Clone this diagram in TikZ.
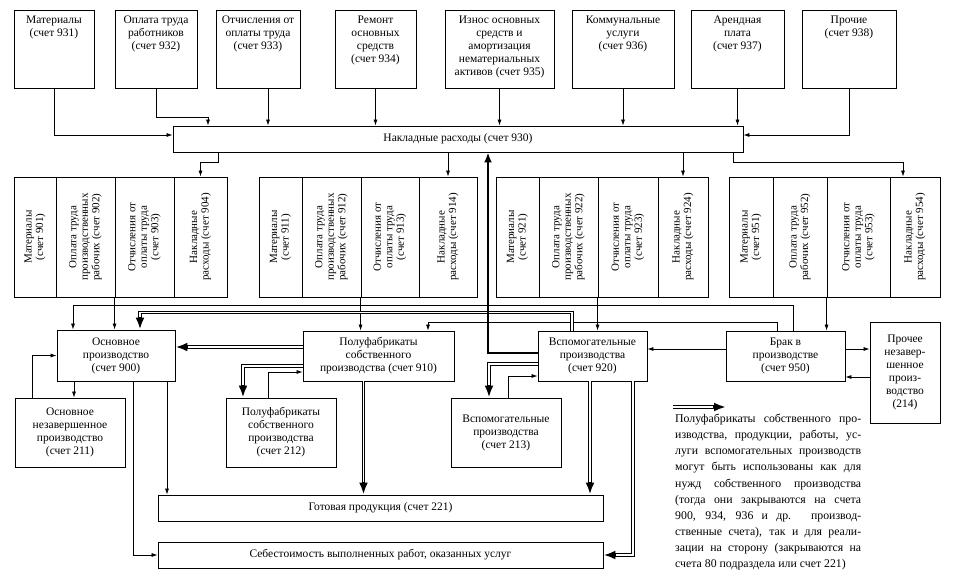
\documentclass[tikz,border=0pt]{standalone}
\usepackage{fontspec}
\setmainfont{Liberation Serif}
\usetikzlibrary{arrows.meta}
\newcommand{\toptext}[2]{\parbox[c][66pt][t]{#1}{\centering #2}}

\begin{document}
\begin{tikzpicture}[x=1pt,y=-1pt,
  box/.style={draw, line width=0.9pt, align=center, inner sep=0pt, font=\fontsize{11.5}{13}\selectfont},
  cell/.style={box, rotate=90, minimum width=120pt, font=\fontsize{11}{11.5}\selectfont},
  lnk/.style={line width=0.7pt, -{Latex[length=6pt,width=4pt]}},
  dbl/.style={line width=3.8pt, -{Latex[length=12pt,width=9pt]}, postaction={draw=white, line width=1.4pt, -, shorten >=13pt}},
  heavy/.style={line width=2.8pt, -{Latex[length=10pt,width=8pt]}},
  note/.style={anchor=north west, inner sep=0pt, text width=186pt, align=justify, font=\fontsize{11.8}{16.1}\selectfont}]
\useasboundingbox (0,0) rectangle (953,574);
\node[box, minimum width=80pt, minimum height=78pt] (m931) at (54,49) {\toptext{78pt}{Материалы\\(счет 931)}};
\node[box, minimum width=82pt, minimum height=78pt] (m932) at (156,49) {\toptext{80pt}{Оплата труда\\работников\\(счет 932)}};
\node[box, minimum width=84pt, minimum height=78pt] (m933) at (258,49) {\toptext{82pt}{Отчисления от\\оплаты труда\\(счет 933)}};
\node[box, minimum width=81pt, minimum height=78pt] (m934) at (375.5,49) {\toptext{79pt}{Ремонт\\основных\\средств\\(счет 934)}};
\node[box, minimum width=109pt, minimum height=78pt] (m935) at (499.5,49) {\toptext{107pt}{Износ основных\\средств и\\амортизация\\нематериальных\\активов (счет 935)}};
\node[box, minimum width=102pt, minimum height=78pt] (m936) at (623,49) {\toptext{100pt}{Коммунальные\\услуги\\(счет 936)}};
\node[box, minimum width=93pt, minimum height=78pt] (m937) at (737.5,49) {\toptext{91pt}{Арендная\\плата\\(счет 937)}};
\node[box, minimum width=94pt, minimum height=78pt] (m938) at (849,49) {\toptext{92pt}{Прочие\\(счет 938)}};
\node[box, minimum width=570pt, minimum height=26pt] (o930) at (458,139) {Накладные расходы (счет 930)};
\node[cell, minimum height=42pt] (c901) at (35,237) {Материалы\\(счет 901)};
\node[cell, minimum height=59pt] (c902) at (85.5,237) {Оплата труда\\производственных\\рабочих (счет 902)};
\node[cell, minimum height=59pt] (c903) at (144.5,237) {Отчисления от\\оплаты труда\\(счет 903)};
\node[cell, minimum height=53pt] (c904) at (200.5,237) {Накладные\\расходы (счет 904)};
\node[cell, minimum height=43pt] (c911) at (280.5,237) {Материалы\\(счет 911)};
\node[cell, minimum height=59pt] (c912) at (331.5,237) {Оплата труда\\производственных\\рабочих (счет 912)};
\node[cell, minimum height=58pt] (c913) at (390,237) {Отчисления от\\оплаты труда\\(счет 913)};
\node[cell, minimum height=58pt] (c914) at (448,237) {Накладные\\расходы (счет 914)};
\node[cell, minimum height=43pt] (c921) at (517.5,237) {Материалы\\(счет 921)};
\node[cell, minimum height=59pt] (c922) at (568.5,237) {Оплата труда\\производственных\\рабочих (счет 922)};
\node[cell, minimum height=60pt] (c923) at (628,237) {Отчисления от\\оплаты труда\\(счет 923)};
\node[cell, minimum height=50pt] (c924) at (683,237) {Накладные\\расходы (счет 924)};
\node[cell, minimum height=44pt] (c951) at (751,237) {Материалы\\(счет 951)};
\node[cell, minimum height=54pt] (c952) at (800,237) {Оплата труда\\рабочих (счет 952)};
\node[cell, minimum height=63pt] (c953) at (858.5,237) {Отчисления от\\оплаты труда\\(счет 953)};
\node[cell, minimum height=50pt] (c954) at (915,237) {Накладные\\расходы (счет 954)};
\node[box, minimum width=118pt, minimum height=51pt] (p900) at (116,355.5) {Основное\\производство\\(счет 900)};
\node[box, minimum width=151pt, minimum height=50pt] (p910) at (378.5,356) {Полуфабрикаты\\собственного\\производства (счет 910)};
\node[box, minimum width=109pt, minimum height=50pt] (p920) at (592.5,356) {Вспомогательные\\производства\\(счет 920)};
\node[box, minimum width=119pt, minimum height=50pt] (p950) at (785.5,356) {Брак в\\производстве\\(счет 950)};
\node[box, minimum width=70pt, minimum height=101pt] (p214) at (905,372.5) {Прочее\\незавер-\\шенное\\произ-\\водство\\(214)};
\node[box, minimum width=110pt, minimum height=69pt] (s211) at (70,432.5) {Основное\\незавершенное\\производство\\(счет 211)};
\node[box, minimum width=110pt, minimum height=69pt] (s212) at (281,432.5) {Полуфабрикаты\\собственного\\производства\\(счет 212)};
\node[box, minimum width=110pt, minimum height=69pt] (s213) at (506,432.5) {Вспомогательные\\производства\\(счет 213)};
\node[box, minimum width=445pt, minimum height=26pt] (g221) at (380.5,508) {Готовая продукция (счет 221)};
\node[box, minimum width=445pt, minimum height=26pt] (kost) at (380.5,555) {Себестоимость выполненных работ, оказанных услуг};
\draw[lnk] (m931.south) |- ([yshift=4pt]o930.west);
\draw[lnk] (m932.south) -- ++(0,29) -| ([xshift=-250pt]o930.north);
\draw[lnk] ([xshift=10pt]m933.south) -- ([xshift=10pt]m933.south |- o930.north);
\draw[lnk] (m934.south) -- (m934.south |- o930.north);
\draw[lnk] (m935.south) -- (m935.south |- o930.north);
\draw[lnk] (m936.south) -- (m936.south |- o930.north);
\draw[lnk] (m937.south) -- (m937.south |- o930.north);
\draw[lnk] (m938.south) |- ([yshift=4pt]o930.east);
\draw[lnk] ([xshift=-240pt]o930.south) -- ++(0,10) -| (c904.east);
\draw[lnk] (c914.east |- o930.south) -- (c914.east);
\draw[lnk] (c924.east |- o930.south) -- (c924.east);
\draw[lnk] ([xshift=275pt]o930.south) -- ++(0,10) -| ([xshift=-12pt]c954.east);
\draw[lnk] (c903.north west) -- (c903.north west |- p900.north);
\draw[lnk] (c913.north west) -- (c913.north west |- p910.north);
\draw[lnk] (c923.north west) -- (c923.north west |- p920.north);
\draw[lnk] (c953.north west) -- (c953.north west |- p950.north);
\draw[lnk] ([xshift=7.5pt]p950.north) -- ++(0,-25) -| ([xshift=-43pt]p900.north);
\draw[lnk] ([xshift=-8.5pt]p950.north) -- ++(0,-8) -| ([xshift=49.5pt]p910.north);
\draw[lnk] ([yshift=7pt]p950.west) -- ([yshift=7pt]p920.east);
\draw[lnk] ([yshift=7pt]p950.east) -- ([yshift=7pt]p950.east -| p214.west);
\draw[lnk] ([yshift=-21pt]p950.east -| p214.west) -- ([yshift=-21pt]p950.east);
\draw[lnk] ([xshift=-13pt]s212.north) |- ([yshift=-16pt]p910.west);
\draw[lnk] ([xshift=-42pt]p900.south) -- ([xshift=-42pt]p900.south |- s211.north);
\draw[lnk] ([xshift=-38pt]s211.north) |- (p900.west);
\draw[lnk] ([xshift=51pt]p900.south) -- ([xshift=51pt]p900.south |- g221.north);
\draw[lnk] ([xshift=17pt]p900.south) |- (kost.west);
\draw[lnk] ([xshift=2pt]s213.north) |- ([yshift=-20pt]p920.west);
\draw[dbl] ([yshift=9pt]p910.west) -- ([yshift=9pt]p910.west -| p900.east);
\draw[dbl] ([yshift=-10pt]p910.west) -| ([xshift=-38pt]s212.north);
\draw[dbl] ([xshift=-15pt]p910.south) -- ([xshift=-15pt]p910.south |- g221.north);
\draw[dbl] ([xshift=-20.5pt]p920.north) -- ++(0,-18) -| ([xshift=24pt]p900.north);
\draw[dbl] ([yshift=-8pt]p920.west) -| ([xshift=-17pt]s213.north);
\draw[dbl] ([xshift=-2.5pt]p920.south) -- ([xshift=-2.5pt]p920.south |- g221.north);
\draw[dbl] ([xshift=40.5pt]p920.south) |- (kost.east);
\draw[heavy] ([yshift=3pt]p920.west) -| ([xshift=30pt]o930.south);
\coordinate (lgA) at (673,407);
\coordinate (lgB) at (726,407);
\draw[dbl] (lgA) -- (lgB);
\node[note] (txt) at (675,414) {Полуфабрикаты собственного про-\linebreak изводства, продукции, работы, ус-\linebreak луги вспомогательных производств\linebreak могут быть использованы как для\linebreak нужд собственного производства\linebreak (тогда они закрываются на счета\linebreak 900, 934, 936 и др. производ-\linebreak ственные счета), так и для реали-\linebreak зации на сторону (закрываются на\linebreak счета 80 подраздела или счет 221)};
\end{tikzpicture}
\end{document}
